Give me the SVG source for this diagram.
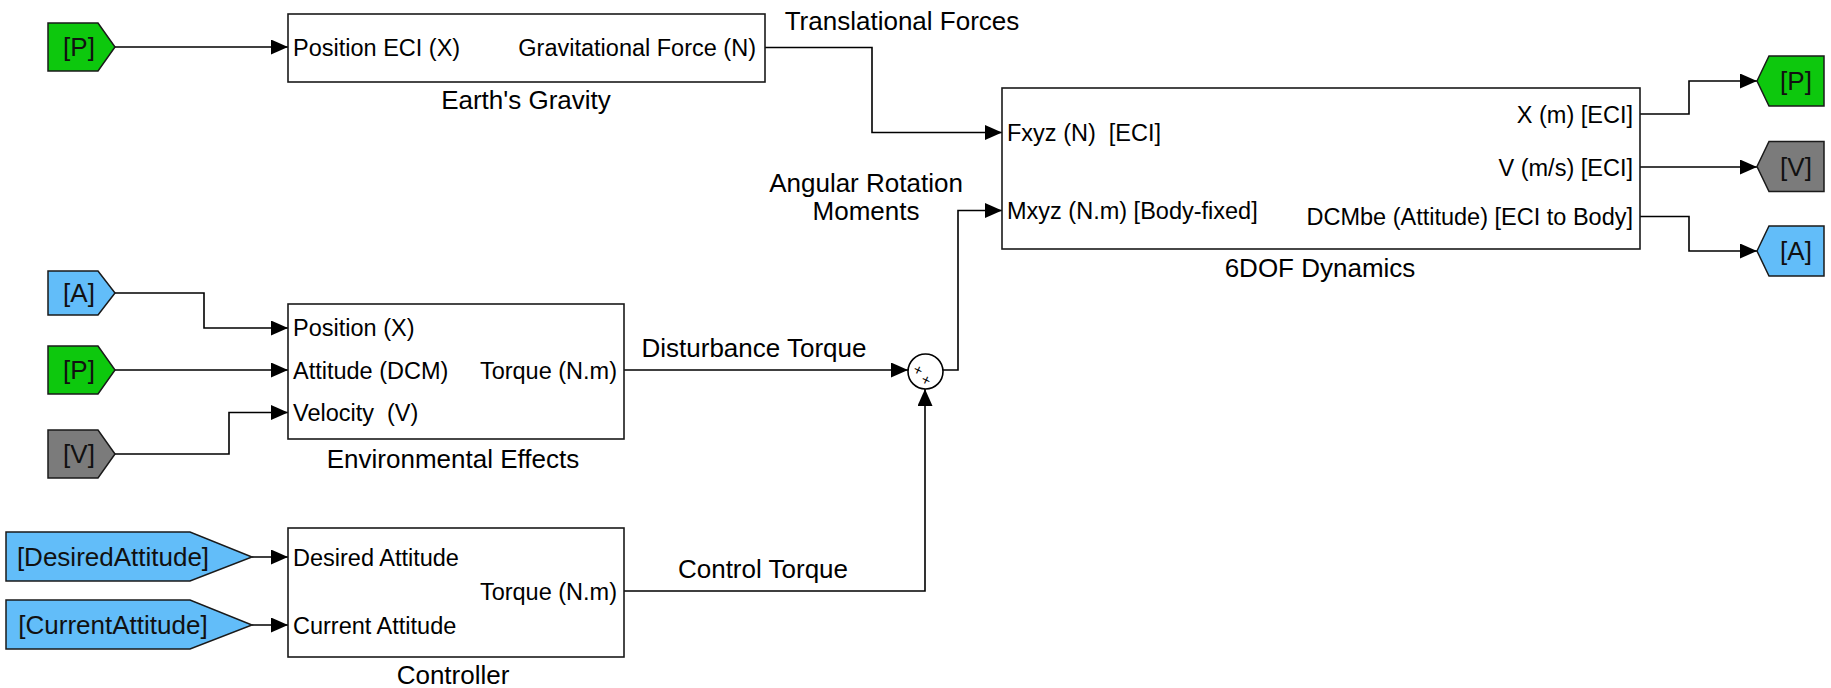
<svg xmlns="http://www.w3.org/2000/svg" width="1831" height="688" viewBox="0 0 1831 688">
<defs>
<marker id="arr" markerUnits="userSpaceOnUse" markerWidth="17" markerHeight="15" refX="17" refY="7.5" orient="auto">
<path d="M0,0 L17,7.5 L0,15 z" fill="#000"/>
</marker>
<style>
.blk{fill:#fff;stroke:#1a1a1a;stroke-width:1.6}
.tag{stroke:#1a1a1a;stroke-width:1.5}
.g{fill:#0dc80d}
.b{fill:#62bdf9}
.gr{fill:#7b7b7b}
.in{font-family:"Liberation Sans",Arial,sans-serif;font-size:23.5px;fill:#000;white-space:pre}
.lbl{font-family:"Liberation Sans",Arial,sans-serif;font-size:26px;fill:#000;text-anchor:middle}
.tt{font-family:"Liberation Sans",Arial,sans-serif;font-size:26px;fill:#111;text-anchor:middle}
.r{text-anchor:end}
.w{fill:none;stroke:#000;stroke-width:1.6}
.sg{font-family:"Liberation Sans",Arial,sans-serif;font-size:15px;fill:#000;text-anchor:middle}
</style>
</defs>

<g id="connectors">
<polyline class="w" points="115,47 288,47" marker-end="url(#arr)"/>
<polyline class="w" points="765,47.5 872,47.5 872,132.5 1002,132.5" marker-end="url(#arr)"/>
<polyline class="w" points="943,370 958,370 958,210.5 1002,210.5" marker-end="url(#arr)"/>
<polyline class="w" points="1640,114 1689,114 1689,81 1757,81" marker-end="url(#arr)"/>
<polyline class="w" points="1640,167 1757,167" marker-end="url(#arr)"/>
<polyline class="w" points="1640,216.5 1689,216.5 1689,251 1757,251" marker-end="url(#arr)"/>
<polyline class="w" points="115,293 204,293 204,328 288,328" marker-end="url(#arr)"/>
<polyline class="w" points="115,370 288,370" marker-end="url(#arr)"/>
<polyline class="w" points="115,454 229,454 229,412.5 288,412.5" marker-end="url(#arr)"/>
<polyline class="w" points="624,370 908,370" marker-end="url(#arr)"/>
<polyline class="w" points="252,557 288,557" marker-end="url(#arr)"/>
<polyline class="w" points="252,625 288,625" marker-end="url(#arr)"/>
<polyline class="w" points="624,591 925,591 925,389" marker-end="url(#arr)"/>
<text class="lbl" x="902" y="29.5">Translational Forces</text>
<text class="lbl" x="866" y="192">Angular Rotation</text>
<text class="lbl" x="866" y="220">Moments</text>
<text class="lbl" x="754" y="357">Disturbance Torque</text>
<text class="lbl" x="763" y="578">Control Torque</text>
</g>

<g id="goto-P-top">
<path class="tag g" d="M48,23 L98,23 L115,47 L98,71 L48,71 z"/>
<text class="tt" x="79" y="56">[P]</text>
</g>

<g id="earths-gravity">
<rect class="blk" x="288" y="14" width="477" height="68"/>
<text class="in" x="293" y="56">Position ECI (X)</text>
<text class="in r" x="756" y="56">Gravitational Force (N)</text>
<text class="lbl" x="526" y="109">Earth's Gravity</text>
</g>

<g id="dynamics-6dof">
<rect class="blk" x="1002" y="88" width="638" height="161"/>
<text class="in" x="1007" y="141">Fxyz (N)  [ECI]</text>
<text class="in" x="1007" y="219">Mxyz (N.m) [Body-fixed]</text>
<text class="in r" x="1633" y="122.5">X (m) [ECI]</text>
<text class="in r" x="1633" y="175.5">V (m/s) [ECI]</text>
<text class="in r" x="1633" y="225">DCMbe (Attitude) [ECI to Body]</text>
<text class="lbl" x="1320" y="277">6DOF Dynamics</text>
</g>

<g id="from-P-right">
<path class="tag g" d="M1757,81 L1769,56 L1824,56 L1824,106 L1769,106 z"/>
<text class="tt" x="1796" y="90">[P]</text>
</g>
<g id="from-V-right">
<path class="tag gr" d="M1757,166.5 L1769,141.5 L1824,141.5 L1824,191.5 L1769,191.5 z"/>
<text class="tt" x="1796" y="176">[V]</text>
</g>
<g id="from-A-right">
<path class="tag b" d="M1757,251 L1769,226 L1824,226 L1824,276 L1769,276 z"/>
<text class="tt" x="1796" y="260">[A]</text>
</g>

<g id="goto-A-left">
<path class="tag b" d="M48,271 L98,271 L115,293 L98,315 L48,315 z"/>
<text class="tt" x="79" y="302">[A]</text>
</g>
<g id="goto-P-left">
<path class="tag g" d="M48,346 L98,346 L115,370 L98,394 L48,394 z"/>
<text class="tt" x="79" y="379">[P]</text>
</g>
<g id="goto-V-left">
<path class="tag gr" d="M48,430 L98,430 L115,454 L98,478 L48,478 z"/>
<text class="tt" x="79" y="463">[V]</text>
</g>

<g id="environmental-effects">
<rect class="blk" x="288" y="304" width="336" height="135"/>
<text class="in" x="293" y="336">Position (X)</text>
<text class="in" x="293" y="378.5">Attitude (DCM)</text>
<text class="in" x="293" y="421">Velocity  (V)</text>
<text class="in r" x="617" y="378.5">Torque (N.m)</text>
<text class="lbl" x="453" y="468">Environmental Effects</text>
</g>

<g id="sum">
<circle cx="925.5" cy="371.5" r="17.5" fill="#fff" stroke="#000" stroke-width="1.6"/>
<text class="sg" x="918" y="375" transform="rotate(25 918 370)">+</text>
<text class="sg" x="926" y="385" transform="rotate(25 926 380)">+</text>
</g>

<g id="desired-attitude">
<path class="tag b" d="M6,532 L190,532 L252,557 L190,581 L6,581 z"/>
<text class="tt" x="113" y="566">[DesiredAttitude]</text>
</g>
<g id="current-attitude">
<path class="tag b" d="M6,600 L190,600 L252,625 L190,649 L6,649 z"/>
<text class="tt" x="113" y="634">[CurrentAttitude]</text>
</g>

<g id="controller">
<rect class="blk" x="288" y="528" width="336" height="129"/>
<text class="in" x="293" y="565.5">Desired Attitude</text>
<text class="in" x="293" y="633.5">Current Attitude</text>
<text class="in r" x="617" y="600">Torque (N.m)</text>
<text class="lbl" x="453" y="684">Controller</text>
</g>
</svg>
